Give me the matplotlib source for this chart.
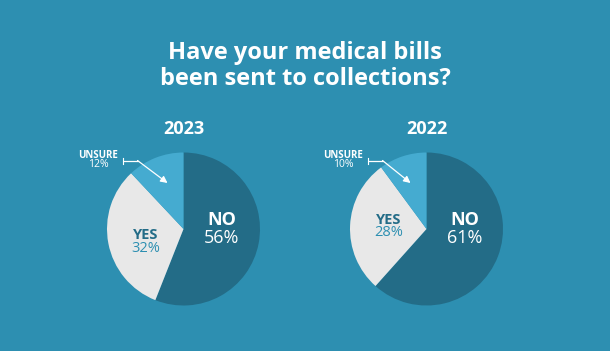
import numpy as np
import matplotlib.pyplot as plt

plt.rcParams['font.family'] = ['Open Sans', 'DejaVu Sans']

# data
years = ['2023', '2022']
categories = ['NO', 'YES', 'UNSURE']
values_2023 = [56, 32, 12]
values_2022 = [61, 28, 10]
all_values = [values_2023, values_2022]

# label spots inside each pie (pie units)
no_pos = [(0.5, 0.12, -0.12), (0.5, 0.12, -0.12)]
yes_pos = [(-0.5, -0.08, -0.25), (-0.5, 0.12, -0.05)]

# colours
bg = '#2D8FB1'
slice_colors = ['#236C87', '#E8E8E8', '#45ABD0']

W, H = 610, 351
fig = plt.figure(figsize=(W / 100, H / 100), dpi=100, facecolor=bg)

def fx(px):
    return px / W

def fy(py):
    return 1 - py / H

fig.text(fx(305), fy(53), 'Have your medical bills', ha='center', va='center',
         color='white', fontsize=17, fontweight='bold')
fig.text(fx(305), fy(79), 'been sent to collections?', ha='center', va='center',
         color='white', fontsize=17, fontweight='bold')

centers = [(183.5, 229), (426.5, 229)]
r = 76.5

for i, ((cx, cy), year, vals) in enumerate(zip(centers, years, all_values)):
    ax = fig.add_axes([fx(cx - r), fy(cy + r), 2 * r / W, 2 * r / H])
    ax.pie(vals, colors=slice_colors, startangle=90, counterclock=False,
           radius=1, wedgeprops=dict(linewidth=0))
    ax.set_xlim(-1, 1)
    ax.set_ylim(-1, 1)
    ax.axis('off')

    fig.text(fx(cx), fy(129), year, ha='center', va='center', color='white',
             fontsize=13, fontweight='bold')

    nx, ny1, ny2 = no_pos[i]
    ax.text(nx, ny1, categories[0], ha='center', va='center', color='white',
            fontsize=13, fontweight='bold')
    ax.text(nx, ny2, f'{vals[0]}%', ha='center', va='center',
            color='white', fontsize=13)
    yx, yy1, yy2 = yes_pos[i]
    ax.text(yx, yy1, categories[1], ha='center', va='center', color='#236C87',
            fontsize=10.5, fontweight='bold')
    ax.text(yx, yy2, f'{vals[1]}%', ha='center', va='center',
            color='#2D8FB1', fontsize=10.5)

# overlay in pixel coords for the UNSURE callouts, on top of the pies
ov = fig.add_axes([0, 0, 1, 1], facecolor='none', zorder=10)
ov.set_xlim(0, W)
ov.set_ylim(H, 0)
ov.axis('off')

for i, ((cx, cy), vals) in enumerate(zip(centers, all_values)):
    lx = cx - 85 if i == 0 else cx - 83
    ov.text(lx, 155, categories[2], ha='center', va='center',
            color='white', fontsize=7, fontweight='bold')
    ov.text(lx, 164.5, f'{vals[2]}%', ha='center', va='center',
            color='white', fontsize=7.5)
    sx = lx + 24
    bend = sx + 15
    ov.plot([sx, sx], [157.5, 163.5], color='white', linewidth=0.8)
    ov.plot([sx, bend], [160.5, 160.5], color='white', linewidth=0.9,
            solid_capstyle='round')
    ov.annotate('', xy=(cx - 16, 183), xytext=(bend, 160.5),
                arrowprops=dict(arrowstyle='-|>', color='white', lw=0.9,
                                shrinkA=0, shrinkB=0, mutation_scale=10))

fig.savefig('out.png', dpi=100, facecolor=bg)
